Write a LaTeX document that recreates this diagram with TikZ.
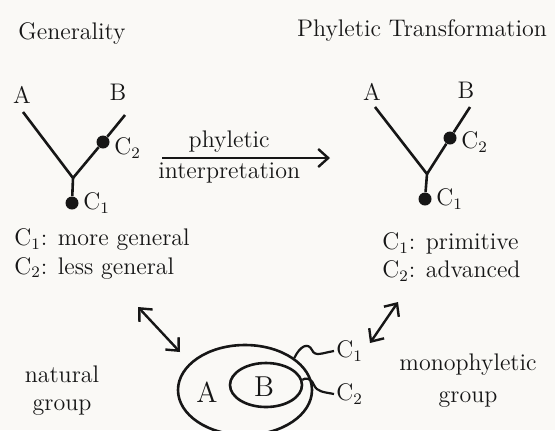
\documentclass[tikz,border=0pt]{standalone}
\usepackage{tikz}
\usepackage{xcolor}
\usetikzlibrary{arrows.meta,positioning,shapes.geometric}
\definecolor{PaperWhite}{RGB}{250,249,246}
\definecolor{InkBlack}{RGB}{22,22,22}

\begin{document}
\begin{tikzpicture}[x=0.5pt, y=-0.5pt, every node/.style={font=\large, text=InkBlack, inner sep=1pt},
  branch/.style={draw=InkBlack, line width=1.3pt},
  dot/.style={circle, fill=InkBlack, inner sep=0pt, minimum size=6.5pt},
  tip/.style={draw=InkBlack, line width=1.2pt, -{Straight Barb[length=5pt,width=9pt]}},
  dbl/.style={draw=InkBlack, line width=1.2pt, {Straight Barb[length=5pt,width=9pt]}-{Straight Barb[length=5pt,width=9pt]}},
  grp/.style={draw=InkBlack, ellipse, line width=1.3pt, inner sep=0pt},
  wig/.style={draw=InkBlack, line width=1.1pt}]
\useasboundingbox (0,0) rectangle (555,430);
\clip (0,0) rectangle (555,430);
\fill[PaperWhite] (0,0) rectangle (555,430);

\node (gen) at (72,33) {Generality};
\node (phy) at (422,30) {Phyletic Transformation};

\coordinate (latop) at (23,112);
\coordinate (lbtop) at (125,115);
\coordinate (ljoin) at (73,178);
\node (la) at (22,95) {A};
\node (lb) at (118,92) {B};
\node[dot] (lc2) at (103,142) {};
\node[dot] (lc1) at (72,203) {};
\node[right=1pt of lc2, yshift=-3pt] (lc2lbl) {C\textsubscript{2}};
\node[right=1pt of lc1] (lc1lbl) {C\textsubscript{1}};
\draw[branch] (latop) -- (ljoin) -- (lc1);
\draw[branch] (lbtop) -- (lc2) -- (ljoin);

\coordinate (ratop) at (375,107);
\coordinate (rbtop) at (470,107);
\coordinate (rjoin) at (427,174);
\node (ra) at (372,92) {A};
\node (rb) at (466,90) {B};
\node[dot] (rc2) at (450,138) {};
\node[dot] (rc1) at (425,199) {};
\node[right=1pt of rc2, yshift=-2pt] (rc2lbl) {C\textsubscript{2}};
\node[right=1pt of rc1] (rc1lbl) {C\textsubscript{1}};
\draw[branch] (ratop) -- (rjoin) -- (rc1);
\draw[branch] (rbtop) -- (rc2) -- (rjoin);

\coordinate (arrs) at (162,158);
\coordinate (arre) at (330,158);
\draw[tip] (arrs) -- (arre) node[pos=0.4, above=1pt] (arrup) {phyletic} node[pos=0.4, below=1pt] (arrdn) {interpretation};

\node[align=left, anchor=west] (ldef) at (12,254) {C\textsubscript{1}: more general\\C\textsubscript{2}: less general};
\node[align=left, anchor=west] (rdef) at (380,257) {C\textsubscript{1}: primitive\\C\textsubscript{2}: advanced};

\coordinate (lup) at (138,307);
\coordinate (ldn) at (180,352);
\draw[dbl] (lup) -- (ldn);
\coordinate (rup) at (398,302);
\coordinate (rdn) at (370,343);
\draw[dbl] (rup) -- (rdn);

\node[align=center] (natural) at (62,391) {natural\\group};
\node[align=center] (mono) at (468,381) {monophyletic\\[2pt]group};

\node[grp, minimum width=67pt, minimum height=45pt] (outer) at (245,390) {};
\node[grp, minimum width=36pt, minimum height=22pt] (inner) at (266,385) {};
\node[font=\Large] (ina) at (207,392) {A};
\node[font=\Large] (inb) at (264,387) {B};

\node[anchor=west] (c1lbl) at (334,351) {C\textsubscript{1}};
\node[anchor=west] (c2lbl) at (334,394) {C\textsubscript{2}};
\draw[wig] (outer.33) .. controls (300,346) and (308,342) .. (312,350) .. controls (315,357) and (322,353) .. (c1lbl.west);
\draw[wig] (inner.8) .. controls (304,378) and (311,377) .. (314,385) .. controls (317,392) and (324,392) .. (c2lbl.west);
\end{tikzpicture}
\end{document}
